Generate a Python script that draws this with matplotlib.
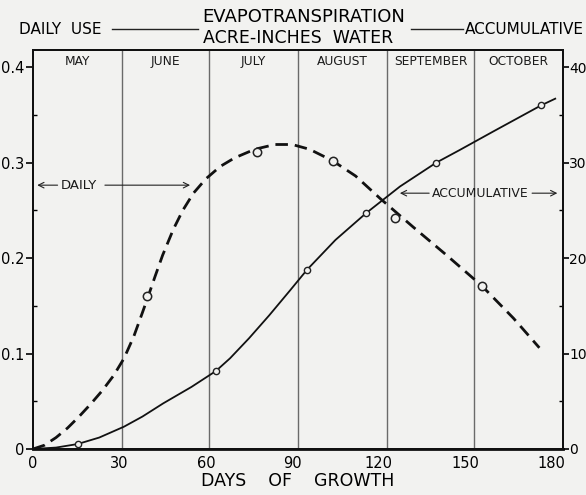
import matplotlib
matplotlib.use("Agg")
import matplotlib.pyplot as plt

# ---- data ----
daily_days = [0, 4, 8, 12, 16, 20, 24, 28, 31.6, 35, 38, 40, 42.4, 45, 48.7, 52, 55.7, 60,
              65, 70, 77, 84, 90, 96, 104, 112, 120.5, 132, 143.6, 155.8, 166.8, 175.8]
daily_vals = [0.0, 0.004, 0.012, 0.022, 0.034, 0.047, 0.061, 0.077, 0.095, 0.118, 0.143,
              0.160, 0.181, 0.203, 0.230, 0.250, 0.268, 0.283, 0.296, 0.305, 0.314, 0.319,
              0.319, 0.314, 0.302, 0.286, 0.2625, 0.2325, 0.203, 0.171, 0.137, 0.106]
daily_pt_days = [39.7, 77.9, 104.0, 125.7, 155.8]
daily_pt_vals = [0.1605, 0.3107, 0.3016, 0.242, 0.171]

acc_days = [0, 8, 15.5, 23, 31.6, 38, 45.2, 55, 63.5, 68.4, 75, 82, 89.2, 95.2, 105,
            115.6, 127.4, 140, 148, 160, 176.4, 181.3]
acc_vals = [0.0, 0.15, 0.52, 1.2, 2.34, 3.4, 4.78, 6.5, 8.17, 9.5, 11.6, 14.0, 16.6, 18.8,
            21.9, 24.7, 27.5, 30.0, 31.3, 33.3, 36.0, 36.7]
acc_pt_days = [15.5, 63.5, 95.2, 115.6, 140.0, 176.4]
acc_pt_vals = [0.52, 8.17, 18.8, 24.7, 30.0, 36.0]

months = ["MAY", "JUNE", "JULY", "AUGUST", "SEPTEMBER", "OCTOBER"]
month_starts = [0, 31, 61, 92, 123, 153, 184]

x_ticks = [0, 30, 60, 90, 120, 150, 180]
left_ticks = [0, 0.1, 0.2, 0.3, 0.4]
left_labels = ["0", "0.1", "0.2", "0.3", "0.4"]
right_ticks = [0, 10, 20, 30, 40]
right_labels = ["0", "10", "20", "30", "40"]

bg = "#f2f2f0"
ink = "#1a1a1a"
fig = plt.figure(figsize=(5.86, 4.95), dpi=100, facecolor=bg)
ax = fig.add_axes([33/586, 1-449/495, (563-33)/586, (449-50)/495])
ax.set_facecolor(bg)
ymax = 0.418
ax.set_xlim(0, 184)
ax.set_ylim(0, ymax)
ax2 = ax.twinx()
ax2.set_ylim(0, ymax*100)

# month divisions
for d in month_starts[1:-1]:
    ax.axvline(d, color="#6a6a6a", lw=1.0, zorder=1)
for i, m in enumerate(months):
    xc = (month_starts[i] + month_starts[i+1]) / 2
    ax.text(xc, 0.4055, m, ha="center", va="center", fontsize=8.8, color=ink)

# curves
ax.plot(daily_days, daily_vals, color="#111111", lw=2.0, ls=(0, (4.5, 2.5)), zorder=3)
ax.plot(daily_pt_days, daily_pt_vals, ls="none", marker="o", ms=6, mfc=bg,
        mec="#222222", mew=1.1, zorder=4)
ax2.plot(acc_days, acc_vals, color="#111111", lw=1.3, zorder=3)
ax2.plot(acc_pt_days, acc_pt_vals, ls="none", marker="o", ms=4.5, mfc=bg,
         mec="#222222", mew=1.0, zorder=4)

# ticks
ax.set_xticks(x_ticks)
ax.set_xticklabels([str(t) for t in x_ticks], fontsize=10.5)
ax.tick_params(axis="x", length=0, pad=5)
ax.set_yticks(left_ticks)
ax.set_yticklabels(left_labels, fontsize=10.5)
ax.set_yticks([0.05, 0.15, 0.25, 0.35], minor=True)
ax.tick_params(axis="y", which="major", direction="out", length=5, width=1.2, pad=1)
ax.tick_params(axis="y", which="minor", direction="in", length=3, width=1.0)
ax2.set_yticks(right_ticks)
ax2.set_yticklabels(right_labels, fontsize=10)
ax2.set_yticks([5, 15, 25, 35], minor=True)
ax2.tick_params(axis="y", which="major", direction="out", length=4, width=1.2, pad=0.5)
ax2.tick_params(axis="y", which="minor", direction="in", length=3, width=1.0)

for a in (ax, ax2):
    for s in a.spines.values():
        s.set_linewidth(1.4)
        s.set_color("#111111")
ax.spines["bottom"].set_linewidth(2.0)

ax.set_xlabel("DAYS    OF    GROWTH", fontsize=12.5, labelpad=1)

# annotations
arrow = dict(arrowstyle="->", lw=0.8, color="#222222")
ax.annotate("", xy=(0.5, 0.2764), xytext=(9.5, 0.2764), arrowprops=arrow)
ax.text(16.0, 0.2764, "DAILY", ha="center", va="center", fontsize=9.5, color=ink)
ax.annotate("", xy=(55.5, 0.2764), xytext=(24.0, 0.2764), arrowprops=arrow)

ax.annotate("", xy=(126.4, 0.268), xytext=(138.5, 0.268), arrowprops=arrow)
ax.text(155.3, 0.268, "ACCUMULATIVE", ha="center", va="center", fontsize=8.9, color=ink)
ax.annotate("", xy=(183, 0.268), xytext=(172.3, 0.268), arrowprops=arrow)

# header
fig.text(304/586, 1-17/495, "EVAPOTRANSPIRATION", ha="center", va="center", fontsize=13)
fig.text(298/586, 1-38/495, "ACRE-INCHES  WATER", ha="center", va="center", fontsize=12.5)
fig.text(60/586, 1-29/495, "DAILY  USE", ha="center", va="center", fontsize=11)
fig.text(524/586, 1-29/495, "ACCUMULATIVE", ha="center", va="center", fontsize=11)
fig.add_artist(plt.Line2D([112/586, 198/586], [1-29/495, 1-29/495], color="#222222", lw=1.0))
fig.add_artist(plt.Line2D([411/586, 463/586], [1-29/495, 1-29/495], color="#222222", lw=1.0))

fig.savefig("out.png", dpi=100, facecolor=bg)
